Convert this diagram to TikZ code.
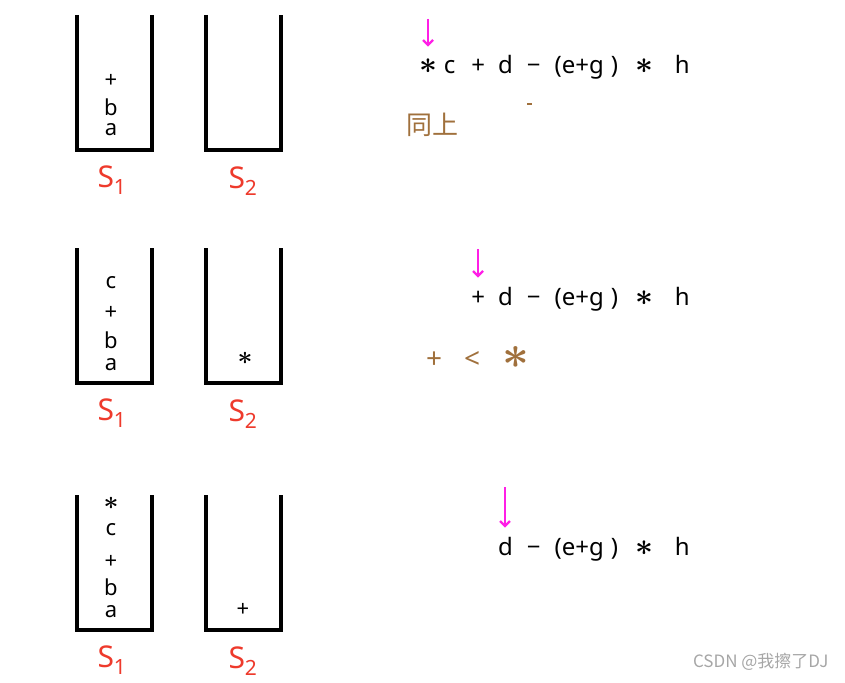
\documentclass[tikz,border=0pt]{standalone}
\usepackage{fontspec}
\setmainfont{Noto Sans}
\newfontfamily\cjkfont{Noto Sans CJK SC}
\usetikzlibrary{arrows.meta}
\definecolor{labred}{HTML}{EE3A2C}
\definecolor{notebrown}{HTML}{A0703C}
\definecolor{ptrpink}{HTML}{FF1FE6}
\newcommand{\tok}{\hspace{16pt}}
\newcommand{\mul}{\scalebox{1.25}{\boldmath\(\ast\)}}
% tail of every expression: d - (e+g) * h
\newcommand{\tailexpr}{d\hspace{14pt}−\hspace{14pt}(e+g\hspace{7pt})\hspace{17pt}\mul\hspace{22pt}h}

\begin{document}
\begin{tikzpicture}[x=1pt, y=-1pt, >={Straight Barb[length=5pt,width=10pt]},
		wall/.style={line width=3.2pt},
		stlabel/.style={text=labred, font=\fontsize{30}{30}\selectfont},
		elem/.style={inner sep=0pt, font=\fontsize{22}{22}\selectfont},
		expr/.style={anchor=base east, inner sep=0pt, font=\fontsize{24}{24}\selectfont},
		note/.style={anchor=west, inner sep=0pt, text=notebrown},
		ptr/.style={->, ptrpink, line width=2.2pt, shorten >=9pt}]
		\useasboundingbox (0,0) rectangle (845,682);
		% two stacks, three states
		\foreach \t/\r in {15/1,248/2,495/3} {
			\draw[wall] (77,\t) -- (77,\t+135) -- (152,\t+135) -- (152,\t);
			\draw[wall] (206,\t) -- (206,\t+135) -- (281,\t+135) -- (281,\t);
			\node[stlabel] (sa\r) at (112,\t+165) {S\textsubscript{1}};
			\node[stlabel] (sb\r) at (243,\t+166) {S\textsubscript{2}};
		}
		% state 1
		\node[elem] (a1) at (111,130) {a};
		\node[elem] (b1) at (111,107) {b};
		\node[elem] (pl1) at (111,81) {+};
		\node[expr] (e1) at (690,74) {\mul\hspace{7pt}c\tok+\hspace{13pt}\tailexpr};
		\coordinate (q1) at (428,19);
		\draw[ptr] (q1) -- (q1 |- e1.north);
		\node[note, font=\cjkfont\fontsize{26}{26}\selectfont] (n1) at (406,125) {同上};
		\draw[notebrown, line width=1.2pt] (527,104) -- (532,104);
		% state 2
		\node[elem] (a2) at (111,365) {a};
		\node[elem] (b2) at (111,340) {b};
		\node[elem] (pl2) at (111,313) {+};
		\node[elem] (c2) at (111,283) {c};
		\node[elem] (m2) at (245,358) {\mul};
		\node[expr] (e2) at (690,305) {+\hspace{13pt}\tailexpr};
		\coordinate (q2) at (478,249);
		\draw[ptr] (q2) -- (q2 |- e2.north);
		\node[note, font=\fontsize{28}{28}\selectfont] (n2) at (426,357) {+\hspace{22pt}<\hspace{22pt}\scalebox{1.5}{\mul}};
		% state 3
		\node[elem] (a3) at (111,612) {a};
		\node[elem] (b3) at (111,587) {b};
		\node[elem] (pl3) at (111,562) {+};
		\node[elem] (c3) at (111,530) {c};
		\node[elem] (m3) at (111,503) {\mul};
		\node[elem] (pl3b) at (243,610) {+};
		\node[expr] (e3) at (690,555) {\tailexpr};
		\coordinate (q3) at (505,487);
		\draw[ptr] (q3) -- (q3 |- e3.north);
		\node[anchor=east, text=gray!70, font=\cjkfont\fontsize{17}{17}\selectfont] (mark) at (832,662) {CSDN @我擦了DJ};
	\end{tikzpicture}
\end{document}
